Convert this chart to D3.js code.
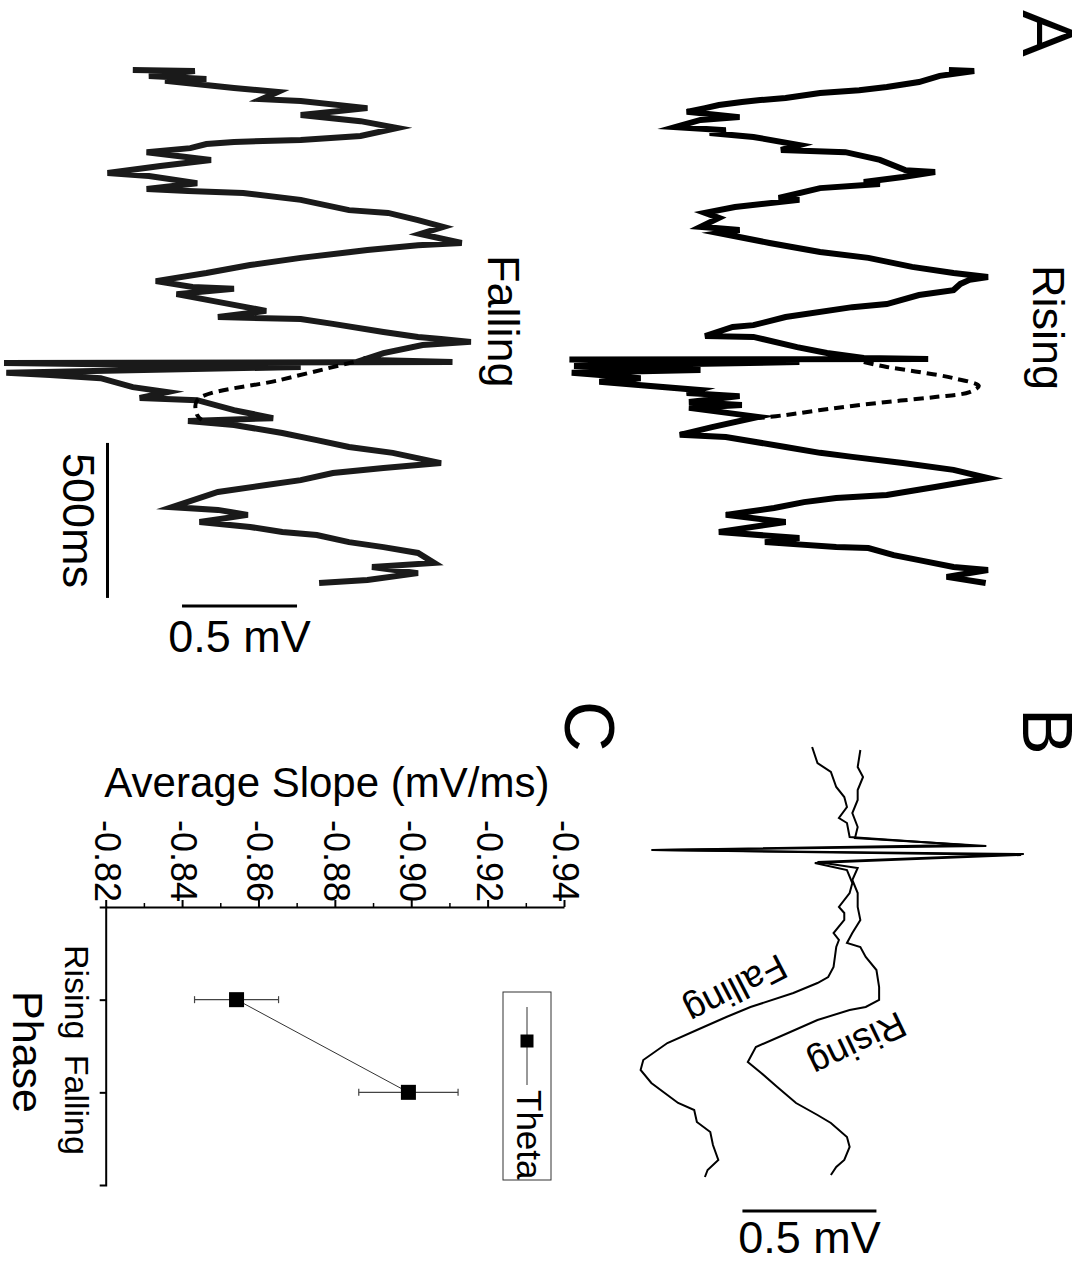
<!DOCTYPE html>
<html>
<head>
<meta charset="utf-8">
<script src="https://cdn.jsdelivr.net/npm/d3@7"></script>
<style>
  body { margin: 0; background: #fff; }
  svg { display: block; }
  text { font-family: "Liberation Sans", Arial, Helvetica, sans-serif; fill: #000; }
</style>
</head>
<body>
<svg id="fig" width="1086" height="1264"></svg>
<script>
// ---------- Panel A: theta-filtered field traces (time in ms, voltage in mV) ----------
const risingTimeA = [0,3,19,39,55,65,74,90,97,103,113,123,135,152,161,184,194,203,216,242,258,265,290,323,329,345,361,368,381,413,419,442,461,477,506,516,526,558,587,606,635,655,668,677,690,710,726,755,765,797,823,829,858,861,894,913,929,932,934,942,955,968,977,994,1006,1016,1032,1042,1052,1071,1081,1090,1119,1152,1177,1184,1216,1235,1248,1268,1290,1316,1345,1371,1381,1394,1413,1435,1458,1490,1510,1523,1539,1542,1565,1581,1603,1613,1635,1655];
const risingMvA = [0.43,0.54,0.39,0.30,0.16,0.04,-0.13,-0.28,-0.39,-0.47,-0.57,-0.63,-0.71,-0.48,-0.65,-0.76,-0.54,-0.61,-0.42,-0.22,-0.30,-0.02,0.13,0.24,0.37,0.23,0.06,0.13,-0.13,-0.31,-0.22,-0.50,-0.63,-0.57,-0.65,-0.48,-0.57,-0.35,-0.13,0.08,0.27,0.45,0.60,0.52,0.48,0.45,0.30,0.16,0.01,-0.28,-0.42,-0.51,-0.63,-0.42,-0.23,-0.10,0.06,0.34,-1.22,-0.22,-1.20,-0.65,-1.21,-0.91,-1.09,-0.92,-0.66,-0.71,-0.48,-0.70,-0.47,-0.70,-0.40,-0.60,-0.74,-0.54,-0.28,-0.13,0.01,0.23,0.45,0.60,0.37,0.16,-0.06,-0.20,-0.33,-0.54,-0.28,-0.57,-0.22,-0.37,-0.06,0.08,0.19,0.30,0.45,0.60,0.42,0.59];
// theta cycle continued through the stimulus (dashed)
const risingFitTime = [942,958,974,994,1019,1039,1055,1071,1090,1113,1123];
const risingFitMv = [0.06,0.16,0.30,0.45,0.56,0.52,0.37,0.16,-0.06,-0.28,-0.40];

const fallingTimeA = [0,3,19,29,35,58,71,94,100,123,145,165,187,213,226,232,239,252,265,290,310,332,342,365,384,390,397,419,452,461,484,506,529,558,565,581,606,629,655,681,700,706,723,748,777,797,803,819,845,861,868,877,887,913,935,942,945,958,977,984,994,1023,1039,1058,1065,1097,1123,1132,1145,1171,1194,1216,1235,1268,1284,1300,1323,1339,1361,1410,1419,1435,1458,1474,1490,1500,1523,1539,1558,1590,1603,1623,1645,1655];
const fallingMvA = [-0.64,-0.37,-0.57,-0.32,-0.50,-0.20,-0.01,-0.08,0.09,0.38,0.09,0.35,0.51,0.35,0.09,-0.20,-0.32,-0.39,-0.58,-0.30,-0.52,-0.75,-0.57,-0.36,-0.58,-0.40,-0.16,0.09,0.30,0.47,0.60,0.71,0.61,0.79,0.60,0.38,0.09,-0.13,-0.32,-0.54,-0.38,-0.20,-0.45,-0.27,-0.06,-0.27,0.09,0.23,0.45,0.60,0.70,0.83,0.62,0.45,0.36,0.75,-1.20,0.09,-1.19,-1.00,-0.78,-0.64,-0.49,-0.61,-0.36,-0.20,-0.03,-0.40,-0.20,0.01,0.16,0.30,0.49,0.70,0.45,0.23,0.09,-0.06,-0.27,-0.47,-0.27,-0.14,-0.35,-0.13,0.01,0.16,0.30,0.45,0.60,0.67,0.40,0.60,0.38,0.17];
const fallingFitTime = [942,1000,1065,1113,1129];
const fallingFitMv = [0.32,0.00,-0.36,-0.36,-0.34];

// ---------- Panel B: averaged responses around the stimulus ----------
const bRisingTime = [5,22,32,45,55,68,82,93,101,105,109,117,123,135,148,162,175,188,198,202,212,225,242,255,262,265,275,288,302,317,328,342,358,370,378,392,402,415,422,430];
const bRisingMv = [0.02,0.01,0.03,0.01,0.01,-0.01,0.01,0.00,0.49,-0.76,0.63,-0.14,0.01,-0.01,0.01,0.01,0.02,-0.01,-0.03,0.02,0.04,0.08,0.09,0.09,0.04,-0.02,-0.14,-0.25,-0.37,-0.40,-0.35,-0.29,-0.22,-0.14,-0.09,-0.03,-0.02,-0.04,-0.07,-0.09];
const bFallingTime = [2,18,27,42,52,62,73,78,92,100,105,110,118,125,138,148,162,168,175,188,195,202,222,232,238,248,262,272,285,298,315,325,338,350,358,365,377,387,400,415,425,432];
const bFallingMv = [-0.16,-0.14,-0.09,-0.07,-0.04,-0.03,-0.06,-0.03,-0.02,0.41,-0.75,0.62,-0.15,-0.03,-0.01,-0.02,-0.06,-0.04,-0.04,-0.08,-0.06,-0.07,-0.08,-0.10,-0.14,-0.23,-0.39,-0.48,-0.59,-0.70,-0.79,-0.80,-0.76,-0.70,-0.66,-0.60,-0.59,-0.54,-0.53,-0.51,-0.55,-0.56];

// ---------- Panel C: average slope by phase ----------
const phases = ["Rising", "Falling"];
const slopeMean = [-0.854, -0.899];
const slopeErr = [0.011, 0.013];
const slopeTicks = [-0.82, -0.84, -0.86, -0.88, -0.90, -0.92, -0.94];
const slopeMinorTicks = [-0.83, -0.85, -0.87, -0.89, -0.91, -0.93];
const seriesName = "Theta";

// ---------- Figure ----------
const W = 1086;
const svg = d3.select("#fig");
// whole figure is laid out landscape and turned a quarter-turn clockwise on the page
const fig = svg.append("g").attr("transform", `translate(${W},0) rotate(90)`);

function drawTrace(g, times, mv, xs, ys, opts) {
  const line = d3.line()
    .x((d, i) => xs(times[i]))
    .y((d, i) => ys(mv[i]))
    .curve(opts.curve || d3.curveLinear);
  g.append("path")
    .attr("d", line(times))
    .attr("fill", "none")
    .attr("stroke", opts.color || "#000")
    .attr("stroke-width", opts.width)
    .attr("stroke-linejoin", "miter")
    .attr("stroke-miterlimit", 6)
    .attr("stroke-dasharray", opts.dash || null);
}

// Panel A
const tA = d3.scaleLinear().domain([0, 500]).range([70, 225]);
const vRiseA = d3.scaleLinear().domain([0, 1]).range([236, 6]);
const vFallA = d3.scaleLinear().domain([0, 1]).range([806, 576]);
const gA = fig.append("g");
drawTrace(gA, risingTimeA, risingMvA, tA, vRiseA, { width: 6, color: "#000" });
drawTrace(gA, risingFitTime, risingFitMv, tA, vRiseA, { width: 4, dash: "10,6", curve: d3.curveCatmullRom });
drawTrace(gA, fallingTimeA, fallingMvA, tA, vFallA, { width: 6, color: "#1a1a1a" });
drawTrace(gA, fallingFitTime, fallingFitMv, tA, vFallA, { width: 4, dash: "10,6", curve: d3.curveCatmullRom });

// scale bars for panel A
const barTimeStart = 1203, barTimeMv = -0.75;
const barMvTime = 1729, barMvStart = -0.426;
gA.append("line")
  .attr("x1", tA(barTimeStart)).attr("x2", tA(barTimeStart + 500))
  .attr("y1", vFallA(barTimeMv)).attr("y2", vFallA(barTimeMv))
  .attr("stroke", "#000").attr("stroke-width", 3);
gA.append("line")
  .attr("x1", tA(barMvTime)).attr("x2", tA(barMvTime))
  .attr("y1", vFallA(barMvStart)).attr("y2", vFallA(barMvStart + 0.5))
  .attr("stroke", "#000").attr("stroke-width", 3);
gA.append("text").text("500ms")
  .attr("x", tA(barTimeStart + 250)).attr("y", vFallA(barTimeMv) + 45)
  .attr("text-anchor", "middle").attr("font-size", 45);
gA.append("text").text("0.5 mV")
  .attr("transform", `translate(${tA(barMvTime) + 46},${vFallA(barMvStart + 0.25)}) rotate(-90)`)
  .attr("text-anchor", "middle").attr("font-size", 45);

gA.append("text").text("Rising").attr("x", 265).attr("y", 53).attr("font-size", 45);
gA.append("text").text("Falling").attr("x", 255).attr("y", 598).attr("font-size", 45);

// Panel B
const tB = d3.scaleLinear().domain([0, 440]).range([745, 1185]);
const vB = d3.scaleLinear().domain([0, 1]).range([231, -37]);
const gB = fig.append("g");
drawTrace(gB, bRisingTime, bRisingMv, tB, vB, { width: 2 });
drawTrace(gB, bFallingTime, bFallingMv, tB, vB, { width: 2 });
const bBarTime = 466, bBarStart = -0.42;
gB.append("line")
  .attr("x1", tB(bBarTime)).attr("x2", tB(bBarTime))
  .attr("y1", vB(bBarStart)).attr("y2", vB(bBarStart + 0.5))
  .attr("stroke", "#000").attr("stroke-width", 3);
gB.append("text").text("0.5 mV")
  .attr("transform", `translate(${tB(bBarTime) + 42},${vB(bBarStart + 0.25)}) rotate(-90)`)
  .attr("text-anchor", "middle").attr("font-size", 45);
gB.append("text").text("Falling")
  .attr("transform", "translate(978,356) rotate(62.6)")
  .attr("text-anchor", "middle").attr("font-size", 37);
gB.append("text").text("Rising")
  .attr("transform", "translate(1033,234) rotate(64.2)")
  .attr("text-anchor", "middle").attr("font-size", 37);

// Panel C
const x0 = 907, x1 = 1185;
const yC = d3.scaleLinear().domain([-0.82, -0.94]).range([979.3, 521]);
const xC = d3.scalePoint().domain(phases).range([x0, x1]).padding(1);
const gC = fig.append("g");

const axY = gC.append("g").attr("transform", `translate(${x0},0)`)
  .call(d3.axisLeft(yC).tickValues(slopeTicks).tickFormat(d => d.toFixed(2))
    .tickSize(7).tickSizeOuter(0).tickPadding(-2));
axY.selectAll("text").attr("font-size", 36).attr("font-family", null);
axY.select(".domain").attr("stroke-width", 2);
axY.selectAll(".tick line").attr("stroke-width", 2);
const axYMinor = gC.append("g").attr("transform", `translate(${x0},0)`)
  .call(d3.axisLeft(yC).tickValues(slopeMinorTicks).tickFormat("").tickSize(4).tickSizeOuter(0));
axYMinor.select(".domain").remove();
axYMinor.selectAll(".tick line").attr("stroke-width", 1.5);

const axX = gC.append("g").attr("transform", `translate(0,${yC(-0.82)})`)
  .call(d3.axisBottom(xC).tickSize(7).tickSizeOuter(7).tickPadding(11));
axX.selectAll("text").attr("font-size", 34).attr("font-family", null)
  .attr("dx", d => d === "Rising" ? -8 : 12);
axX.select(".domain").attr("stroke-width", 2);
axX.selectAll(".tick line").attr("stroke-width", 2);

gC.append("text").text("Average Slope (mV/ms)")
  .attr("transform", `translate(797,${(yC(-0.82) + yC(-0.94)) / 2 + 9}) rotate(-90)`)
  .attr("text-anchor", "middle").attr("font-size", 42);
gC.append("text").text("Phase")
  .attr("x", (x0 + x1) / 2 + 6).attr("y", 1073)
  .attr("text-anchor", "middle").attr("font-size", 43);

// connecting line, error bars, markers
gC.append("path")
  .attr("d", d3.line().x((d, i) => xC(phases[i])).y((d, i) => yC(slopeMean[i]))(phases))
  .attr("fill", "none").attr("stroke", "#333").attr("stroke-width", 1);
phases.forEach((p, i) => {
  const cx = xC(p);
  const lo = yC(slopeMean[i] + slopeErr[i]), hi = yC(slopeMean[i] - slopeErr[i]);
  gC.append("line").attr("x1", cx).attr("x2", cx).attr("y1", lo).attr("y2", hi)
    .attr("stroke", "#444").attr("stroke-width", 1.2);
  [lo, hi].forEach(yy => gC.append("line")
    .attr("x1", cx - 3.5).attr("x2", cx + 3.5).attr("y1", yy).attr("y2", yy)
    .attr("stroke", "#444").attr("stroke-width", 1.2));
  gC.append("rect").attr("x", cx - 7.5).attr("y", yC(slopeMean[i]) - 7.5)
    .attr("width", 15).attr("height", 15).attr("fill", "#000");
});

// legend
const lg = gC.append("g");
lg.append("rect").attr("x", 992).attr("y", 535).attr("width", 188).attr("height", 48)
  .attr("fill", "none").attr("stroke", "#333").attr("stroke-width", 1);
lg.append("line").attr("x1", 1007).attr("x2", 1085).attr("y1", 559).attr("y2", 559)
  .attr("stroke", "#333").attr("stroke-width", 1);
lg.append("rect").attr("x", 1034.5).attr("y", 552.5).attr("width", 13).attr("height", 13).attr("fill", "#000");
lg.append("text").text(seriesName).attr("x", 1090).attr("y", 569).attr("font-size", 35);

// panel letters
fig.append("text").text("A").attr("x", 10).attr("y", 63).attr("font-size", 70);
fig.append("text").text("B").attr("x", 708).attr("y", 63).attr("font-size", 70);
fig.append("text").text("C").attr("x", 701).attr("y", 521).attr("font-size", 70);
</script>
</body>
</html>
